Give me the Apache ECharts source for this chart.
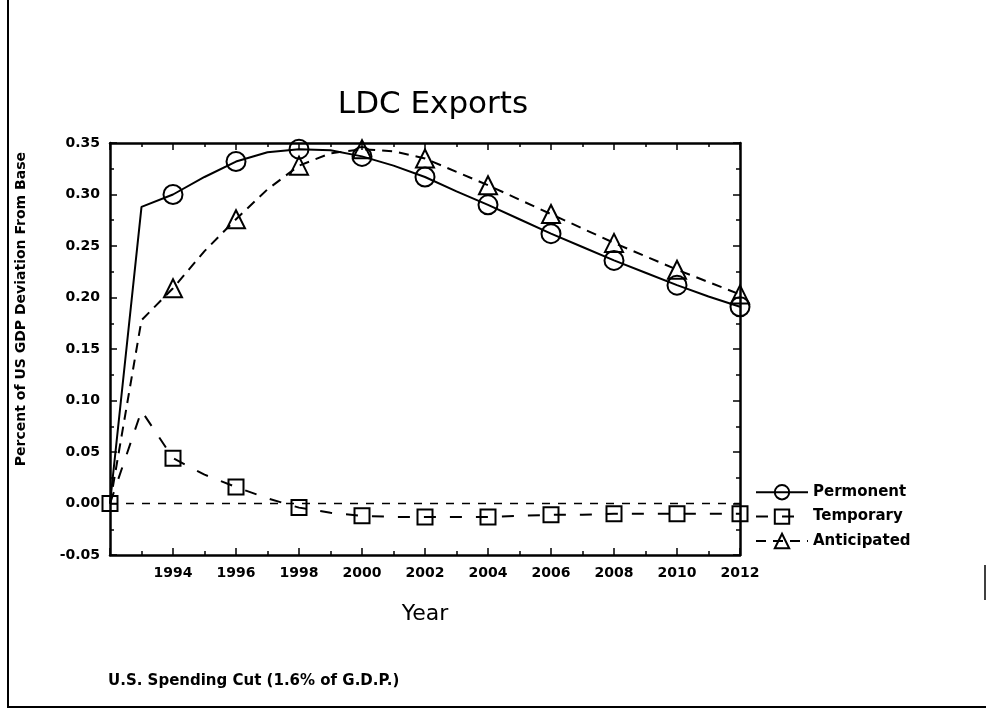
<!DOCTYPE html>
<html>
<head>
<meta charset="utf-8">
<script src="https://cdn.jsdelivr.net/npm/echarts@6/dist/echarts.min.js"></script>
<style>
html,body{margin:0;padding:0;background:#fff;}
#chart{width:988px;height:711px;}
</style>
</head>
<body>
<div id="chart"></div>
<script>
// Data
const years = [1992,1993,1994,1995,1996,1997,1998,1999,2000,2001,2002,2003,2004,2005,2006,2007,2008,2009,2010,2011,2012];
const permanent = [0.000,0.288,0.300,0.317,0.332,0.341,0.344,0.343,0.337,0.328,0.317,0.303,0.290,0.276,0.262,0.249,0.236,0.224,0.212,0.201,0.191];
const temporary = [0.000,0.090,0.044,0.028,0.016,0.005,-0.004,-0.009,-0.012,-0.013,-0.013,-0.013,-0.013,-0.012,-0.011,-0.011,-0.010,-0.010,-0.010,-0.010,-0.010];
const anticipated = [0.000,0.178,0.209,0.245,0.276,0.305,0.328,0.340,0.344,0.342,0.335,0.322,0.309,0.295,0.281,0.267,0.253,0.240,0.227,0.215,0.203];
const baseline = [0,0,0,0,0,0,0,0,0,0,0,0,0,0,0,0,0,0,0,0,0];
const permanentMarkerYears = [1994,1996,1998,2000,2002,2004,2006,2008,2010,2012];
const temporaryMarkerYears = [1992,1994,1996,1998,2000,2002,2004,2006,2008,2010,2012];
const anticipatedMarkerYears = [1994,1996,1998,2000,2002,2004,2006,2008,2010,2012];
const seriesNames = ['Permanent','Temporary','Anticipated'];
const legendLabels = {Permanent:'Permonent', Temporary:'Temporary', Anticipated:'Anticipated'};

function build(values, markYears){
  return years.map((y,i)=>({value:[y, values[i]], symbol: markYears.indexOf(y) >= 0 ? undefined : 'none'}));
}

const chart = echarts.init(document.getElementById('chart'), null, {renderer:'canvas'});
const tickFont = {fontFamily:'DejaVu Sans', fontWeight:'bold', fontSize:14, color:'#000'};
const axisLineStyle = {color:'#000', width:2.5};
const tickStyle = {show:true, inside:true, length:7, lineStyle:{color:'#000', width:1.5}};
const minorStyle = {show:true, splitNumber:2, length:4, lineStyle:{color:'#000', width:1.5}};

const option = {
  backgroundColor:'#fff',
  animation:false,
  title:{
    text:'LDC Exports', left:428, top:84, textAlign:'center',
    textStyle:{fontFamily:'DejaVu Sans', fontWeight:'normal', fontSize:31, color:'#000'}
  },
  grid:{left:110, right:248, top:143, bottom:156},
  legend:{
    orient:'vertical', left:750, top:479, itemWidth:52, itemHeight:18, itemGap:8,
    data:seriesNames,
    formatter: n => legendLabels[n],
    textStyle:{fontFamily:'DejaVu Sans', fontWeight:'bold', fontSize:15, color:'#000'}
  },
  xAxis:[{
    type:'value', min:1992, max:2012, interval:2,
    axisLine:{show:true, onZero:false, lineStyle:axisLineStyle},
    axisTick:tickStyle, minorTick:minorStyle,
    splitLine:{show:false}, minorSplitLine:{show:false},
    axisLabel:Object.assign({margin:11, formatter: v => v === 1992 ? '' : String(v)}, tickFont),
    name:'Year', nameLocation:'middle', nameGap:48,
    nameTextStyle:{fontFamily:'DejaVu Sans', fontSize:22, color:'#000'}
  },{
    type:'value', position:'top', min:1992, max:2012, interval:2,
    axisLine:{show:true, onZero:false, lineStyle:axisLineStyle},
    axisTick:tickStyle, minorTick:minorStyle,
    splitLine:{show:false}, axisLabel:{show:false}
  }],
  yAxis:[{
    type:'value', min:-0.05, max:0.35, interval:0.05,
    axisLine:{show:true, onZero:false, lineStyle:axisLineStyle},
    axisTick:tickStyle, minorTick:minorStyle,
    splitLine:{show:false}, minorSplitLine:{show:false},
    axisLabel:Object.assign({margin:10, formatter: v => v.toFixed(2)}, tickFont)
  },{
    type:'value', position:'right', min:-0.05, max:0.35, interval:0.05,
    axisLine:{show:true, onZero:false, lineStyle:axisLineStyle},
    axisTick:tickStyle, minorTick:minorStyle,
    splitLine:{show:false}, axisLabel:{show:false}
  }],
  series:[{
    name:'Permanent', type:'line', data:build(permanent, permanentMarkerYears),
    symbol:'circle', symbolSize:19,
    lineStyle:{color:'#000', width:2, type:'solid'},
    itemStyle:{color:'rgba(255,255,255,0)', borderColor:'#000', borderWidth:2}
  },{
    name:'Temporary', type:'line', data:build(temporary, temporaryMarkerYears),
    symbol:'rect', symbolSize:15,
    lineStyle:{color:'#000', width:2, type:[12,14]},
    itemStyle:{color:'rgba(255,255,255,0)', borderColor:'#000', borderWidth:2}
  },{
    name:'Anticipated', type:'line', data:build(anticipated, anticipatedMarkerYears),
    symbol:'triangle', symbolSize:18,
    lineStyle:{color:'#000', width:2, type:[10,7]},
    itemStyle:{color:'rgba(255,255,255,0)', borderColor:'#000', borderWidth:2}
  },{
    name:'Base', type:'line', data:years.map((y,i)=>[y, baseline[i]]),
    symbol:'none', silent:true,
    lineStyle:{color:'#000', width:1.5, type:[8,8]}
  }],
  graphic:[
    {type:'text', left:14, top:152, rotation:Math.PI/2,
     style:{text:'Percent of US GDP Deviation From Base', fontFamily:'DejaVu Sans', fontWeight:'bold', fontSize:14, fill:'#000'}},
    {type:'text', left:108, top:674,
     style:{text:'U.S. Spending Cut (1.6% of G.D.P.)', fontFamily:'DejaVu Sans', fontWeight:'bold', fontSize:15, fill:'#000'}},
    {type:'line', shape:{x1:8, y1:0, x2:8, y2:708}, style:{stroke:'#000', lineWidth:2}},
    {type:'line', shape:{x1:8, y1:707, x2:986, y2:707}, style:{stroke:'#000', lineWidth:2}},
    {type:'line', shape:{x1:985, y1:565, x2:985, y2:600}, style:{stroke:'#000', lineWidth:1.5}}
  ]
};
chart.setOption(option);
</script>
</body>
</html>
